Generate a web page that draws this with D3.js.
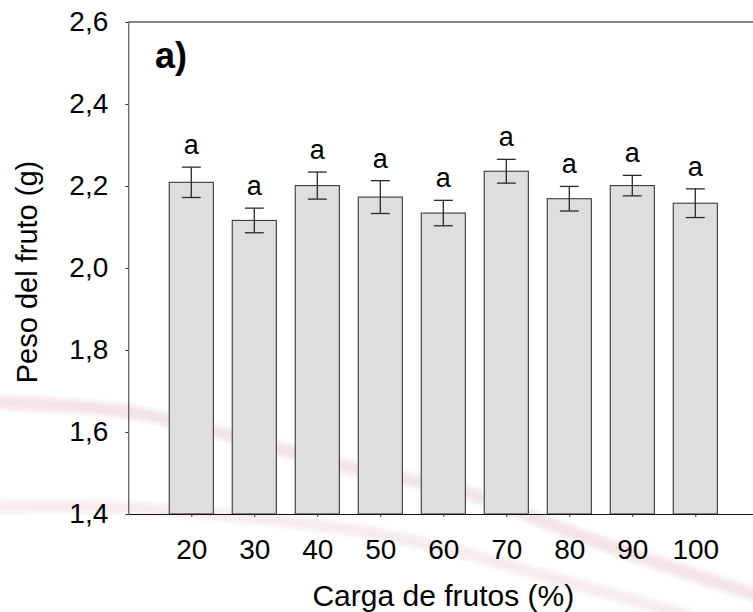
<!DOCTYPE html>
<html>
<head>
<meta charset="utf-8">
<script src="https://cdn.jsdelivr.net/npm/d3@7"></script>
<style>
  html, body { margin: 0; padding: 0; background: #fff; }
  svg { display: block; }
  text { font-family: "Liberation Sans", Arial, sans-serif; fill: #000; }
</style>
</head>
<body>
<svg id="chart" width="753" height="612"></svg>
<script>
// Fruit load (%) categories
const cargas = [20, 30, 40, 50, 60, 70, 80, 90, 100];
// Mean fruit weight (g)
const pesoMedio = [2.209, 2.116, 2.201, 2.173, 2.134, 2.236, 2.169, 2.201, 2.158];
// Standard error of the mean (g)
const errorEst = [0.037, 0.030, 0.033, 0.040, 0.031, 0.029, 0.030, 0.025, 0.035];
// Significance letters
const letras = ["a", "a", "a", "a", "a", "a", "a", "a", "a"];
// Y axis ticks
const yTicks = [1.4, 1.6, 1.8, 2.0, 2.2, 2.4, 2.6];

const svg = d3.select("#chart");

const x = d3.scaleLinear().domain([10, 110]).range([128.3, 758.3]);
const y = d3.scaleLinear().domain([1.4, 2.6]).range([514, 22]);

const barUnits = 7;      // bar width in x-axis units
const capUnits = 1.5;    // half cap width in x-axis units
const barW = x(barUnits) - x(0);
const capW = x(capUnits) - x(0);

const locale = d3.formatLocale({ decimal: ",", thousands: ".", grouping: [3], currency: ["", ""] });
const fmt = locale.format(".1f");

// faint decorative swoosh in the page background
const defs = svg.append("defs");
defs.append("filter").attr("id", "soft")
  .append("feGaussianBlur").attr("stdDeviation", 2.2);
const swoosh = d3.line().curve(d3.curveCatmullRom.alpha(0.5));
const bandA = [[-10, 402], [130, 412], [233, 436], [343, 466], [467, 493], [600, 543], [765, 598]];
const bandB = [[-10, 507], [130, 508], [333, 527], [440, 547], [560, 580], [690, 616]];
const bg = svg.append("g").attr("filter", "url(#soft)");
[bandA, bandB].forEach((pts, i) => {
  bg.append("path")
    .attr("d", swoosh(pts))
    .attr("fill", "none")
    .attr("stroke", "#a8324f")
    .attr("stroke-opacity", i === 0 ? 0.13 : 0.10)
    .attr("stroke-width", i === 0 ? 13 : 11)
    .attr("stroke-linecap", "round");
});

// bars
svg.append("g").selectAll("rect")
  .data(cargas)
  .join("rect")
  .attr("x", (d) => x(d) - barW / 2)
  .attr("y", (d, i) => y(pesoMedio[i]))
  .attr("width", barW)
  .attr("height", (d, i) => y(1.4) - y(pesoMedio[i]))
  .attr("fill", "#dedede")
  .attr("stroke", "#3a3a3a")
  .attr("stroke-width", 1.1);

// error bars
const eb = svg.append("g").attr("stroke", "#2a2a2a").attr("stroke-width", 1.3).attr("fill", "none");
cargas.forEach((c, i) => {
  const hi = y(pesoMedio[i] + errorEst[i]);
  const lo = y(pesoMedio[i] - errorEst[i]);
  const cx = x(c);
  eb.append("line").attr("x1", cx).attr("x2", cx).attr("y1", hi).attr("y2", lo);
  eb.append("line").attr("x1", cx - capW).attr("x2", cx + capW).attr("y1", hi).attr("y2", hi);
  eb.append("line").attr("x1", cx - capW).attr("x2", cx + capW).attr("y1", lo).attr("y2", lo);
});

// significance letters
svg.append("g").selectAll("text")
  .data(cargas)
  .join("text")
  .attr("x", (d) => x(d))
  .attr("y", (d, i) => y(pesoMedio[i] + errorEst[i]) - 13)
  .attr("text-anchor", "middle")
  .style("font-size", "27px")
  .text((d, i) => letras[i]);

// y axis
const yAxis = svg.append("g")
  .attr("transform", `translate(${x(10)},0)`)
  .call(d3.axisLeft(y).tickValues(yTicks).tickFormat(fmt).tickSize(3).tickSizeOuter(0).tickPadding(17));
yAxis.select(".domain").attr("stroke", "#333").attr("stroke-width", 1);
yAxis.selectAll(".tick line").attr("stroke", "#333");
yAxis.selectAll("text").style("font-size", "28px").attr("fill", "#000");

// x axis
const xAxis = svg.append("g")
  .attr("transform", `translate(0,${y(1.4)})`)
  .call(d3.axisBottom(x).tickValues(cargas).tickFormat(d3.format("d")).tickSize(3).tickSizeOuter(0).tickPadding(22));
xAxis.select(".domain").attr("stroke", "#111").attr("stroke-width", 1.2);
xAxis.selectAll(".tick line").attr("stroke", "#333");
xAxis.selectAll("text").style("font-size", "28px").attr("fill", "#000");

// top frame line
svg.append("line")
  .attr("x1", x(10)).attr("x2", x(110))
  .attr("y1", y(2.6)).attr("y2", y(2.6))
  .attr("stroke", "#111").attr("stroke-width", 1.2);

// panel label
svg.append("text")
  .attr("x", 155).attr("y", 68)
  .style("font-size", "36px").style("font-weight", "bold")
  .text("a)");

// axis titles
svg.append("text")
  .attr("transform", `translate(37,272) rotate(-90)`)
  .attr("text-anchor", "middle")
  .style("font-size", "29px")
  .text("Peso del fruto (g)");

svg.append("text")
  .attr("x", (x(10) + x(110)) / 2).attr("y", 606)
  .attr("text-anchor", "middle")
  .style("font-size", "30px")
  .text("Carga de frutos (%)");
</script>
</body>
</html>
